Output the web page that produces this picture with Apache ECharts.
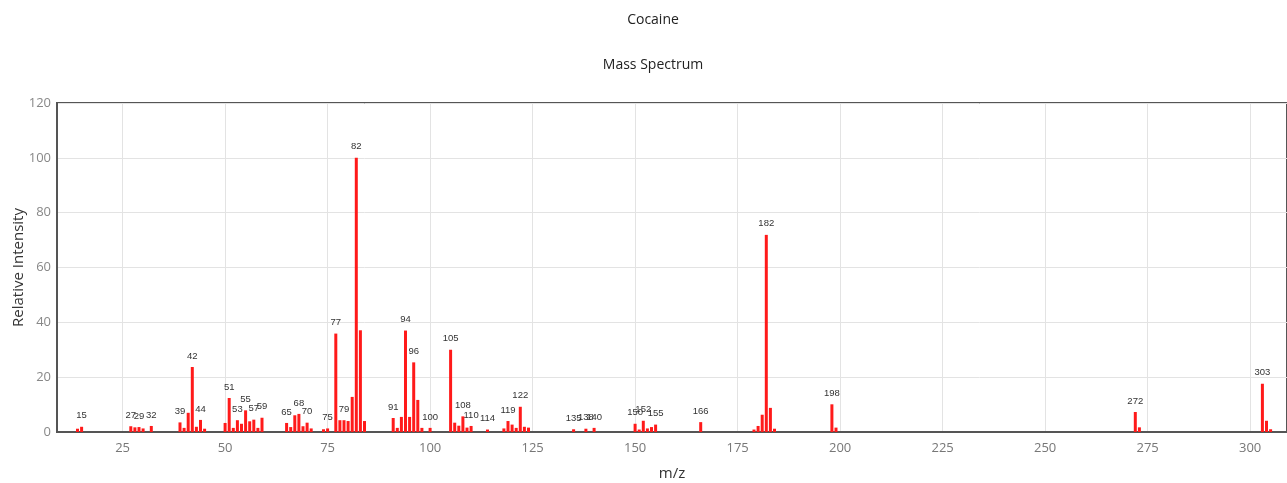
<!DOCTYPE html>
<html>
<head>
<meta charset="utf-8">
<script src="https://cdn.jsdelivr.net/npm/echarts@6/dist/echarts.min.js"></script>
<style>html,body{margin:0;padding:0;background:#fff}#c{width:1287px;height:483px}</style>
</head>
<body>
<div id="c"></div>
<script>
const titleText = "Cocaine";
const subtitleText = "Mass Spectrum";
const mzValues = [14,15,27,28,29,30,32,39,40,41,42,43,44,45,50,51,52,53,54,55,56,57,58,59,
  65,66,67,68,69,70,71,74,75,77,78,79,80,81,82,83,84,91,92,93,94,95,96,97,98,100,
  105,106,107,108,109,110,114,118,119,120,121,122,123,124,135,138,140,150,151,152,153,154,155,
  166,179,180,181,182,183,184,198,199,272,273,303,304,305];
const intensities = [1.2,1.9,2.1,1.7,1.8,1.3,2.2,3.5,1.5,7.0,23.7,1.9,4.4,1.2,3.3,12.4,1.5,4.3,3.0,7.9,3.9,4.5,1.5,5.2,
  3.3,1.8,6.1,6.6,2.1,3.4,1.3,1.0,1.3,35.9,4.3,4.3,4.0,12.8,100,37.1,4.0,5.1,1.5,5.5,37.0,5.5,25.4,11.7,1.5,1.5,
  30.0,3.4,2.3,5.7,1.6,2.2,0.9,1.3,4.0,2.7,1.5,9.2,1.9,1.6,1.0,1.2,1.5,3.0,0.9,4.1,1.3,1.8,2.7,
  3.6,0.9,2.2,6.3,71.9,8.8,1.2,10.1,1.6,7.3,1.7,17.6,4.1,1.0];
const labeledPeaks = [15,27,29,32,39,42,44,51,53,55,57,59,65,68,70,75,77,79,82,91,94,96,100,105,108,110,114,
  119,122,135,138,140,150,152,155,166,182,198,272,303];
const yTicks = [0,20,40,60,80,100,120];
const xTicks = [25,50,75,100,125,150,175,200,225,250,275,300];

const FONT = "'Open Sans', 'Noto Sans', sans-serif";
const LABEL_FONT = "'Liberation Sans', Arial, sans-serif";
const data = mzValues.map((m, i) => ({
  value: [m, intensities[i]],
  label: { show: labeledPeaks.includes(m) }
}));

const chart = echarts.init(document.getElementById('c'), null, {renderer: 'canvas'});
chart.setOption({
  animation: false,
  textStyle: { fontFamily: FONT },
  title: [
    { text: titleText, left: 648, top: 8, textAlign: 'center',
      textStyle: { fontSize: 14, fontWeight: 'normal', color: '#222', fontFamily: FONT } },
    { text: subtitleText, left: 648, top: 53, textAlign: 'center',
      textStyle: { fontSize: 14, fontWeight: 'normal', color: '#222', fontFamily: FONT } }
  ],
  grid: { left: 57, right: 0, top: 103, bottom: 51, outerBoundsMode: 'none', containLabel: false,
    show: true, borderColor: '#555', borderWidth: 2, backgroundColor: 'transparent' },
  xAxis: {
    type: 'value', min: 9, max: 309,
    name: 'm/z', nameLocation: 'middle', nameGap: 34, nameMoveOverlap: false,
    nameTextStyle: { fontSize: 15, color: '#333', fontFamily: FONT },
    axisLine: { show: true, lineStyle: { color: '#555', width: 2 } },
    axisTick: { show: false, customValues: xTicks },
    splitLine: { show: true, lineStyle: { color: '#e3e3e3', width: 1 } },
    axisLabel: { color: '#777', fontSize: 13, margin: 10, fontFamily: FONT, customValues: xTicks }
  },
  yAxis: {
    type: 'value', min: 0, max: 120, interval: 20,
    name: 'Relative Intensity', nameLocation: 'middle', nameGap: 31, nameMoveOverlap: false,
    nameTextStyle: { fontSize: 15, color: '#333', fontFamily: FONT },
    axisLine: { show: true, lineStyle: { color: '#555', width: 2 } },
    axisTick: { show: false },
    splitLine: { show: true, lineStyle: { color: '#e3e3e3', width: 1 } },
    axisLabel: { color: '#888', fontSize: 13, margin: 6, fontFamily: FONT, customValues: yTicks }
  },
  series: [{
    type: 'bar',
    data: data,
    barWidth: 3,
    itemStyle: { color: '#ff1a1a' },
    label: { position: 'top', distance: 6, fontSize: 9.5, color: '#333', fontFamily: LABEL_FONT,
      formatter: p => String(p.value[0]) }
  }]
});
</script>
</body>
</html>
